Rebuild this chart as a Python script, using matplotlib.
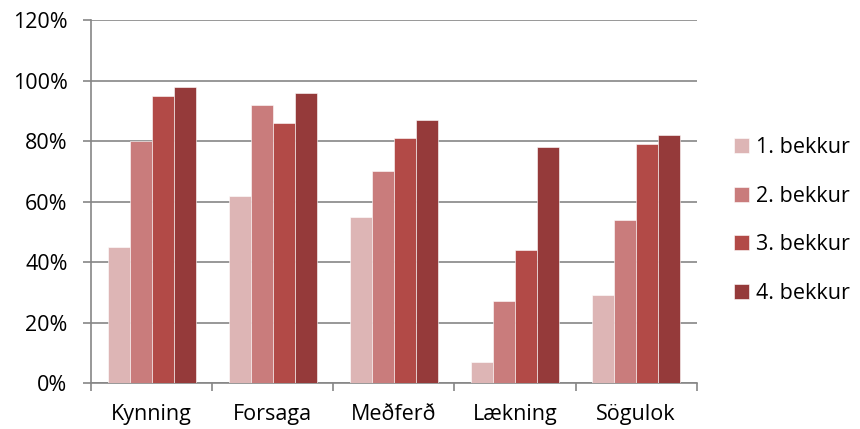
import matplotlib
matplotlib.use("Agg")
import matplotlib.pyplot as plt
import numpy as np
from matplotlib.ticker import FixedLocator, PercentFormatter

categories = ["Kynning", "Forsaga", "Meðferð", "Lækning", "Sögulok"]
series_names = ["1. bekkur", "2. bekkur", "3. bekkur", "4. bekkur"]
b1 = [45, 62, 55, 7, 29]
b2 = [80, 92, 70, 27, 54]
b3 = [95, 86, 81, 44, 79]
b4 = [98, 96, 87, 78, 82]
series = [b1, b2, b3, b4]
colors = ["#DDB5B5", "#C97C7C", "#B24A47", "#953A3A"]

plt.rcParams['font.family'] = ['Open Sans', 'DejaVu Sans']
fig = plt.figure(figsize=(8.6, 4.29), dpi=100)
ax = fig.add_axes([0.106, 0.107, 0.704, 0.846])

x = np.arange(len(categories))
bw = 0.182
for i, (vals, c, name) in enumerate(zip(series, colors, series_names)):
    ax.bar(x + (i - 1.5) * bw, vals, width=bw, color=c, label=name,
           edgecolor="white", linewidth=0.4, zorder=3)

fs = 15.5
ax.set_xlim(-0.5, len(categories) - 0.5)
ax.set_ylim(0, 120)
ax.set_yticks(np.arange(0, 121, 20))
ax.yaxis.set_major_formatter(PercentFormatter(decimals=0))
ax.set_xticks(x)
ax.set_xticklabels(categories)
ax.xaxis.set_minor_locator(FixedLocator(np.arange(-0.5, len(categories), 1.0)))
ax.tick_params(axis='x', which='major', length=0, labelsize=fs, pad=15)
ax.tick_params(axis='x', which='minor', length=6, color="#868686", width=1.2, direction='out')
ax.tick_params(axis='y', length=6, color="#868686", width=1.2, labelsize=fs, pad=11)
ax.grid(axis='y', color="#868686", linewidth=1.2, zorder=0)
for s in ['top', 'right']:
    ax.spines[s].set_visible(False)
for s in ['left', 'bottom']:
    ax.spines[s].set_color("#868686")
    ax.spines[s].set_linewidth(1.2)

leg = fig.legend(loc='center left', bbox_to_anchor=(0.853, 0.486), frameon=False,
                 fontsize=fs, handlelength=0.7, handleheight=0.7, borderpad=0,
                 borderaxespad=0, labelspacing=1.28, handletextpad=0.35)
fig.savefig("out.png", dpi=100)
